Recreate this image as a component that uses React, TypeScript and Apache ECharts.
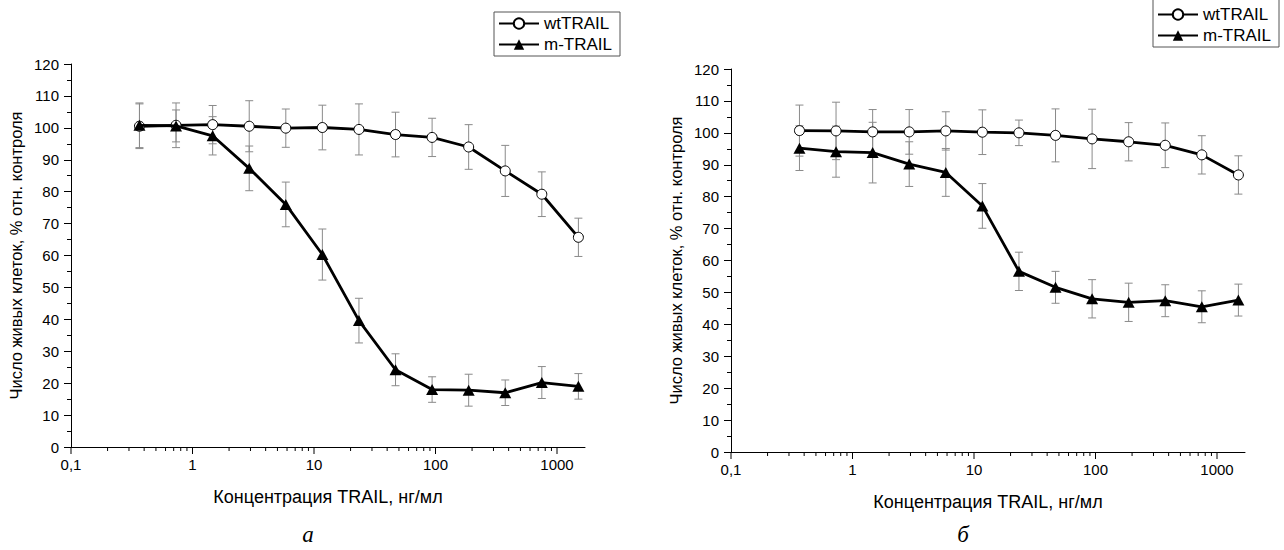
import React, { useEffect, useRef } from "react";
import * as echarts from "echarts";

// TRAIL concentration, ng/ml (two-fold dilutions)
const concentrations = [0.366, 0.732, 1.465, 2.93, 5.86, 11.72, 23.44, 46.88, 93.75, 187.5, 375, 750, 1500];

// Panel а
const wtA = [100.5, 100.8, 101, 100.5, 99.9, 100.1, 99.5, 97.9, 97, 94, 86.5, 79.2, 65.7];
const wtAErr = [7, 7, 6, 8, 6, 7, 8, 7, 6, 7, 8, 7, 6];
const mA = [100.8, 100.6, 97.5, 87.3, 76, 60.3, 39.6, 24.2, 18, 17.8, 17, 20.2, 19];
const mAErr = [7, 5, 6, 7, 7, 8, 7, 5, 4, 5, 4, 5, 4];

// Panel б
const wtB = [100.7, 100.6, 100.3, 100.3, 100.6, 100.2, 100, 99.2, 98.1, 97.2, 96.1, 93.1, 86.8];
const wtBErr = [8, 9, 7, 7, 6, 7, 4, 8.3, 9.3, 6, 7, 6, 6];
const mB = [95.2, 94.1, 93.8, 90.2, 87.6, 77.1, 56.6, 51.6, 48, 46.9, 47.4, 45.5, 47.6];
const mBErr = [7, 8, 9.5, 7, 7.5, 7, 6, 5, 6, 6, 5, 5, 5];

// Axis ticks
const xMajorTicks = [0.1, 1, 10, 100, 1000];
const xMinorMultipliers = [2, 3, 4, 5, 6, 7, 8, 9];
const seriesNames = ["wtTRAIL", "m-TRAIL"];
const xAxisTitle = "Концентрация TRAIL, нг/мл";
const yAxisTitle = "Число живых клеток, % отн. контроля";
const panelLabels = ["а", "б"];

const FONT = '"Liberation Sans", Arial, sans-serif';

const xTickData: number[][] = [];
xMajorTicks.forEach((m) => {
  xTickData.push([m, 0, 1]);
  if (m < 1000) xMinorMultipliers.forEach((k) => xTickData.push([+(m * k).toPrecision(3), 0, 0]));
});

const pts = (ys: number[]) => concentrations.map((x, i) => [x, ys[i]]);
const errs = (ys: number[], es: number[]) => concentrations.map((x, i) => [x, ys[i] - es[i], ys[i] + es[i]]);

const errorRender = (params: any, api: any) => {
  const x = api.value(0);
  const lo = api.coord([x, api.value(1)]);
  const hi = api.coord([x, api.value(2)]);
  const w = 4;
  const st = { stroke: "#8a8a8a", lineWidth: 1 };
  return {
    type: "group",
    children: [
      { type: "line", shape: { x1: lo[0], y1: lo[1], x2: hi[0], y2: hi[1] }, style: st },
      { type: "line", shape: { x1: lo[0] - w, y1: lo[1], x2: lo[0] + w, y2: lo[1] }, style: st },
      { type: "line", shape: { x1: hi[0] - w, y1: hi[1], x2: hi[0] + w, y2: hi[1] }, style: st },
    ],
  };
};

const tickRender = (params: any, api: any) => {
  const p = api.coord([api.value(0), 0]);
  const len = api.value(2) ? 7 : 4;
  return {
    type: "line",
    shape: { x1: p[0], y1: p[1], x2: p[0], y2: p[1] + len },
    style: { stroke: "#000", lineWidth: 1 },
  };
};

export default function App() {
  const ref = useRef<HTMLDivElement>(null);
  useEffect(() => {
    if (!ref.current) return;
    const chart = echarts.init(ref.current, null, { renderer: "svg" });
    const grids = [
      { left: 71, top: 64, width: 514, height: 383 },
      { left: 731, top: 69, width: 514, height: 383 },
    ];
    const xAxes = grids.map((_, gi) => ({
      type: "log",
      gridIndex: gi,
      min: 0.1,
      max: 1700,
      logBase: 10,
      name: xAxisTitle,
      nameLocation: "middle",
      nameGap: 41,
      nameTextStyle: { fontSize: 18, fontFamily: FONT, color: "#000" },
      axisLine: { lineStyle: { color: "#000", width: 1 } },
      axisTick: { show: false },
      minorTick: { show: false },
      splitLine: { show: false },
      axisLabel: {
        fontSize: 15,
        fontFamily: FONT,
        color: "#000",
        margin: 10,
        showMaxLabel: false,
        formatter: (v: number) => (v < 0.5 ? "0,1" : String(Math.round(v))),
      },
    }));
    const yAxes = grids.map((_, gi) => ({
      type: "value",
      gridIndex: gi,
      min: 0,
      max: 120,
      interval: 10,
      name: yAxisTitle,
      nameLocation: "middle",
      nameGap: 47,
      nameTextStyle: { fontSize: 16.5, fontFamily: FONT, color: "#000" },
      axisLine: { show: true, lineStyle: { color: "#000", width: 1 } },
      axisTick: { show: true, length: 7, lineStyle: { color: "#000" } },
      minorTick: { show: true, splitNumber: 2, length: 4, lineStyle: { color: "#000" } },
      splitLine: { show: false },
      axisLabel: { fontSize: 15, fontFamily: FONT, color: "#000", margin: 12 },
    }));

    const panels = [
      { wt: wtA, wtE: wtAErr, m: mA, mE: mAErr },
      { wt: wtB, wtE: wtBErr, m: mB, mE: mBErr },
    ];
    const series: any[] = [];
    panels.forEach((p, gi) => {
      series.push({
        type: "custom",
        name: "err-wt-" + gi,
        xAxisIndex: gi,
        yAxisIndex: gi,
        data: errs(p.wt, p.wtE),
        encode: { x: 0, y: [1, 2] },
        renderItem: errorRender,
        silent: true,
        z: 1,
      });
      series.push({
        type: "custom",
        name: "err-m-" + gi,
        xAxisIndex: gi,
        yAxisIndex: gi,
        data: errs(p.m, p.mE),
        encode: { x: 0, y: [1, 2] },
        renderItem: errorRender,
        silent: true,
        z: 1,
      });
      series.push({
        type: "line",
        name: seriesNames[0],
        xAxisIndex: gi,
        yAxisIndex: gi,
        data: pts(p.wt),
        symbol: "circle",
        symbolSize: 10,
        showAllSymbol: true,
        lineStyle: { color: "#000", width: 2.8 },
        itemStyle: { color: "#fff", borderColor: "#000", borderWidth: 1 },
        z: 3,
      });
      series.push({
        type: "line",
        name: seriesNames[1],
        xAxisIndex: gi,
        yAxisIndex: gi,
        data: pts(p.m),
        symbol: "triangle",
        symbolSize: [12, 11],
        showAllSymbol: true,
        lineStyle: { color: "#000", width: 2.8 },
        itemStyle: { color: "#000" },
        z: 4,
      });
      series.push({
        type: "custom",
        name: "xticks-" + gi,
        xAxisIndex: gi,
        yAxisIndex: gi,
        data: xTickData,
        encode: { x: 0, y: 1 },
        renderItem: tickRender,
        silent: true,
        clip: false,
        z: 2,
      });
    });

    const legendBase = {
      data: seriesNames,
      orient: "vertical",
      itemWidth: 40,
      itemHeight: 13,
      itemGap: 4,
      borderColor: "#555",
      borderWidth: 1,
      selectedMode: false,
      textStyle: { fontSize: 17, fontFamily: FONT, color: "#000" },
    };

    chart.setOption({
      animation: false,
      backgroundColor: "#fff",
      grid: grids,
      xAxis: xAxes,
      yAxis: yAxes,
      legend: [
        { ...legendBase, left: 494, top: 12, padding: [3, 8, 3, 4] },
        { ...legendBase, left: 1153, top: -8, padding: [14, 8, 3, 4] },
      ],
      graphic: [
        {
          type: "text",
          x: 308,
          y: 534,
          style: { text: panelLabels[0], font: 'italic 23px "Liberation Serif", serif', fill: "#000", textAlign: "center", textVerticalAlign: "middle" },
        },
        {
          type: "text",
          x: 963,
          y: 534,
          style: { text: panelLabels[1], font: 'italic 23px "Liberation Serif", serif', fill: "#000", textAlign: "center", textVerticalAlign: "middle" },
        },
      ],
      series,
    });
    return () => chart.dispose();
  }, []);
  return <div ref={ref} style={{ position: "fixed", left: 0, top: 0, width: 1284, height: 550, background: "#fff" }} />;
}
